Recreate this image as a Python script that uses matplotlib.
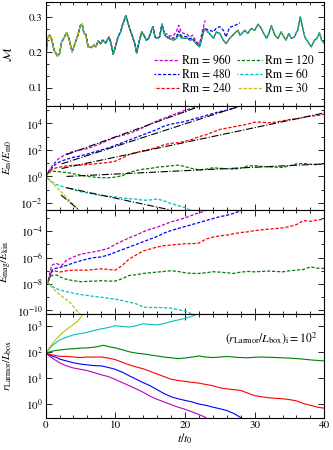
import numpy as np
import matplotlib as mpl
mpl.use('Agg')
import matplotlib.pyplot as plt
from matplotlib.ticker import MultipleLocator, AutoMinorLocator, LogLocator, NullFormatter, NullLocator

plt.rcParams['font.family'] = 'STIXGeneral'
plt.rcParams['mathtext.fontset'] = 'stix'
plt.rcParams['font.size'] = 8.5

# ---- data ----
runs = ['960', '480', '240', '120', '60', '30']
colors = ['m', 'b', 'r', 'g', 'c', 'y']

# Mach number, shared part of all runs
t_mach = [0, 0.1, 0.25, 0.6, 0.9, 1.2, 1.7, 2.0, 2.3, 2.6, 3.0, 3.35, 3.8, 4.2, 4.55, 5.0, 5.25, 5.5,
          5.75, 6.1, 6.6, 6.9, 7.2, 7.55, 7.9, 8.2, 8.6, 9.1, 9.4, 9.7, 10.0, 10.4, 10.75, 11.1, 11.5,
          11.7, 12.05, 12.45, 12.8, 13.05, 13.4, 13.8, 14.1, 14.45, 14.8, 15.2, 15.4, 15.7, 16.0, 16.35,
          16.7, 17.1, 17.4, 17.8, 18.4, 18.8, 19.1, 19.5, 19.9, 20.3, 20.7, 21.1, 21.6, 22.1, 22.5, 22.8,
          23.05, 23.5, 24.1, 24.5, 25.0, 25.5, 25.9, 26.4, 27.1, 27.6, 27.9, 28.6, 29.0, 29.5, 30.0, 30.5,
          30.95, 31.3, 31.7, 32.05, 32.4, 32.9, 33.35, 33.8, 34.2, 34.5, 34.9, 35.25, 35.7, 36.2, 36.55,
          36.85, 37.2, 37.65, 38.1, 38.6, 38.95, 39.3, 39.6, 40.0]
mach = [0.05, 0.2, 0.239, 0.248, 0.234, 0.206, 0.189, 0.196, 0.229, 0.239, 0.255, 0.239, 0.201, 0.224,
        0.243, 0.276, 0.279, 0.253, 0.251, 0.215, 0.213, 0.22, 0.215, 0.232, 0.224, 0.234, 0.226, 0.243,
        0.224, 0.194, 0.215, 0.243, 0.257, 0.281, 0.303, 0.291, 0.267, 0.245, 0.224, 0.198, 0.229, 0.257,
        0.248, 0.234, 0.239, 0.262, 0.272, 0.243, 0.239, 0.243, 0.279, 0.248, 0.242, 0.238, 0.234, 0.24,
        0.25, 0.24, 0.239, 0.24, 0.234, 0.236, 0.224, 0.215, 0.245, 0.267, 0.262, 0.253, 0.239, 0.257,
        0.253, 0.234, 0.224, 0.239, 0.253, 0.262, 0.248, 0.262, 0.253, 0.267, 0.262, 0.279, 0.267, 0.253,
        0.239, 0.253, 0.275, 0.248, 0.239, 0.257, 0.243, 0.234, 0.253, 0.239, 0.243, 0.264, 0.30, 0.272,
        0.243, 0.229, 0.215, 0.234, 0.239, 0.255, 0.234, 0.225]
# where Rm=960 and Rm=480 leave the common curve
t_mach_960 = [17.1, 17.4, 17.8, 18.4, 18.8, 19.1, 19.5, 19.9, 20.3, 20.7, 21.1, 21.6, 22.1, 22.5, 22.8, 22.9]
mach_960 = [0.25, 0.252, 0.245, 0.248, 0.26, 0.276, 0.255, 0.253, 0.25, 0.243, 0.248, 0.229, 0.225,
            0.26, 0.283, 0.29]
t_mach_480 = [17.1, 17.4, 17.8, 18.4, 18.8, 19.1, 19.5, 19.9, 20.3, 20.7, 21.1, 21.6, 22.1, 22.5, 22.8,
              23.05, 23.5, 24.1, 24.5, 25.0, 25.5, 25.9, 26.4, 27.1, 27.6, 27.9]
mach_480 = [0.248, 0.245, 0.24, 0.24, 0.245, 0.26, 0.245, 0.245, 0.243, 0.238, 0.24, 0.226, 0.218, 0.25,
            0.27, 0.265, 0.262, 0.258, 0.268, 0.272, 0.262, 0.243, 0.27, 0.275, 0.28, 0.283]
mach_end = {'960': 16.8, '480': 16.8, '240': 40, '120': 40, '60': 40, '30': 7.8}

# E_m / E_m0 (log10)
t_em = {
    '960': [0, 0.5, 1, 1.5, 2, 3, 4, 5, 6, 7, 8, 9, 10, 11, 12, 13, 14, 15, 16, 17, 18, 19, 20, 21, 22, 22.5],
    '480': [0, 0.5, 1, 1.5, 2, 3, 4, 5, 6, 7, 8, 9, 10, 11, 12, 13, 14, 15, 16, 17, 18, 19, 20, 21, 22, 23,
            24, 25, 26, 27, 28],
    '240': [0, 0.5, 1, 1.5, 2] + list(range(3, 41)),
    '120': [0, 0.5, 1, 1.5, 2] + list(range(3, 41)),
    '60': [0, 0.5, 1, 1.5, 2, 3, 4, 5, 6, 7, 8, 9, 10, 11, 12, 13, 14, 15, 16, 17, 18, 19, 20, 20.8],
    '30': [0, 0.5, 1, 1.5, 2, 2.5, 3, 3.5, 4, 4.5, 5],
}
lg_em = {
    '960': [0, 0.45, 0.85, 1.15, 1.4, 1.7, 1.9, 2.0, 2.1, 2.3, 2.5, 2.75, 2.95, 3.1, 3.25, 3.45, 3.7, 3.95,
            4.2, 4.4, 4.6, 4.8, 5.0, 5.15, 5.3, 5.4],
    '480': [0, 0.4, 0.7, 0.95, 1.1, 1.3, 1.45, 1.55, 1.7, 1.85, 2.0, 2.15, 2.35, 2.55, 2.75, 2.95, 3.15,
            3.35, 3.55, 3.8, 3.95, 4.05, 4.15, 4.3, 4.45, 4.6, 4.75, 4.9, 5.0, 5.15, 5.35],
    '240': [0, 0.35, 0.55, 0.65, 0.7, 0.8, 0.85, 0.85, 0.9, 0.95, 1.0, 1.05, 1.15, 1.4, 1.65, 1.8, 1.95,
            2.05, 2.2, 2.4, 2.5, 2.55, 2.65, 2.8, 3.0, 3.15, 3.35, 3.55, 3.65, 3.75, 3.85, 3.95, 4.1, 4.1,
            4.05, 4.1, 4.2, 4.3, 4.35, 4.45, 4.55, 4.6, 4.7],
    '120': [0, 0.3, 0.4, 0.38, 0.35, 0.3, 0.2, 0.1, 0.0, -0.05, -0.1, -0.1, -0.05, 0.05, 0.3, 0.45, 0.55,
            0.6, 0.7, 0.75, 0.8, 0.85, 0.75, 0.6, 0.5, 0.55, 0.65, 0.62, 0.58, 0.55, 0.62, 0.8, 0.82, 0.75,
            0.72, 0.7, 0.68, 0.8, 0.95, 0.98, 0.92, 0.88, 0.95],
    '60': [0, -0.25, -0.45, -0.6, -0.7, -0.85, -1.0, -1.15, -1.25, -1.35, -1.45, -1.5, -1.55, -1.62, -1.68,
           -1.72, -1.8, -1.78, -1.7, -1.85, -2.05, -2.2, -2.35, -2.55],
    '30': [0, -0.25, -0.5, -0.78, -1.05, -1.3, -1.6, -1.85, -2.1, -2.4, -2.7],
}
# exponential fits: (t_start, t_end), (log10 start, log10 end)
fit_t = {'960': (3, 22.3), '480': (2.3, 27.8), '240': (2.3, 40), '120': (3, 40), '60': (3, 17.8), '30': (2.2, 4.75)}
fit_lg = {'960': (1.65, 5.33), '480': (0.95, 5.3), '240': (0.6, 4.8), '120': (0.0, 0.95),
          '60': (-0.85, -2.52), '30': (-1.4, -2.52)}

# E_mag / E_kin (log10)
t_ratio = {
    '960': [0, 0.3, 0.6, 0.85, 1.2, 1.6, 2.0, 2.3, 3, 4, 5, 6, 7, 8, 9, 10, 11, 12, 13, 14, 15, 16, 17,
            18, 19, 20, 21, 22, 22.9],
    '480': [0, 0.3, 0.6, 0.85, 1.2, 1.6, 2.0, 3, 4, 5, 6, 7, 8, 9, 10, 11, 12, 13, 14, 15, 16, 17, 18, 19,
            20, 21, 22, 23, 24, 25, 26, 27, 28],
    '240': [0, 0.3, 0.6, 0.85, 1.2, 1.6, 2] + list(range(3, 41)),
    '120': [0, 0.3, 0.6, 1, 1.6, 2] + list(range(3, 41)),
    '60': [0, 0.3, 1, 1.5, 2, 3, 4, 5, 6, 7, 8, 9, 10, 11, 12, 13, 14, 15, 16, 17, 18, 19, 20, 20.9],
    '30': [0, 0.05, 0.3, 1, 1.5, 2, 2.5, 3, 3.5, 4, 4.5, 5],
}
lg_ratio = {
    '960': [-7.85, -7.9, -7.2, -6.6, -6.5, -6.45, -6.55, -6.6, -6.2, -5.95, -5.75, -5.65, -5.55, -5.45,
            -5.3, -5.0, -4.75, -4.5, -4.3, -4.05, -3.85, -3.7, -3.5, -3.3, -3.15, -3.0, -2.8, -2.6, -2.5],
    '480': [-7.85, -7.9, -7.5, -7.0, -6.85, -6.8, -6.75, -6.6, -6.4, -6.25, -6.1, -6.0, -5.95, -5.8, -5.6,
            -5.4, -5.2, -5.0, -4.8, -4.6, -4.4, -4.15, -3.95, -3.8, -3.65, -3.5, -3.35, -3.2, -3.05, -2.9,
            -2.8, -2.65, -2.45],
    '240': [-7.85, -7.9, -7.5, -7.1, -7.0, -7.05, -7.1, -7.0, -6.95, -6.95, -6.95, -6.9, -6.85, -6.9, -6.95,
            -6.6, -6.1, -5.8, -5.5, -5.35, -5.2, -5.1, -5.05, -5.0, -4.95, -4.95, -4.9, -4.6, -4.45, -4.35,
            -4.3, -4.2, -4.1, -4.05, -3.95, -3.9, -3.85, -3.8, -3.75, -3.65, -3.5, -3.2, -3.25, -3.15, -3.1],
    '120': [-7.85, -7.9, -7.45, -7.35, -7.32, -7.45, -7.65, -7.75, -7.83, -7.8, -7.78, -7.75, -7.78, -7.78,
            -7.6, -7.35, -7.3, -7.2, -7.15, -7.1, -7.05, -7.0, -7.05, -7.15, -7.2, -7.2, -7.15, -7.07, -7.1,
            -7.15, -7.2, -7.1, -7.05, -7.08, -7.05, -7.02, -7.05, -7.08, -7.0, -6.95, -6.9, -6.7, -6.8, -6.82],
    '60': [-7.85, -7.9, -8.2, -8.33, -8.45, -8.58, -8.7, -8.8, -8.87, -8.95, -9.0, -9.08, -9.15, -9.25,
           -9.38, -9.5, -9.75, -9.78, -9.78, -9.8, -9.83, -9.95, -10.05, -10.25],
    '30': [-6.6, -7.6, -7.9, -8.3, -8.55, -8.8, -9.0, -9.2, -9.4, -9.7, -10.05, -10.3],
}

# r_Larmor / L_box (log10)
t_rl = {
    '960': [0, 1, 1.6, 2, 3, 4, 5, 6, 7, 8, 9, 10, 11, 12, 13, 14, 15, 16, 17, 18, 19, 20, 21, 22, 23],
    '480': [0, 1, 1.6, 2] + list(range(3, 29)),
    '240': [0, 1, 1.6, 2] + list(range(3, 41)),
    '120': [0, 1, 2, 3, 4, 5, 6, 7, 7.5, 8.3, 9] + list(range(10, 41)),
    '60': [0, 1, 2, 3, 4, 5, 6, 7, 8, 9, 10, 11, 12, 13, 14, 15, 16, 17, 18, 19, 20, 21, 22.2],
    '30': [0, 0.5, 1, 1.5, 2, 2.5, 3, 3.5, 4, 4.5, 5, 5.5],
}
lg_rl = {
    '960': [1.95, 1.75, 1.65, 1.58, 1.46, 1.38, 1.33, 1.28, 1.2, 1.12, 1.05, 0.94, 0.82, 0.7, 0.58, 0.45,
            0.3, 0.18, 0.08, -0.02, -0.12, -0.2, -0.3, -0.4, -0.52],
    '480': [1.95, 1.83, 1.78, 1.72, 1.65, 1.58, 1.53, 1.5, 1.47, 1.46, 1.4, 1.33, 1.22, 1.08, 0.95, 0.82,
            0.7, 0.55, 0.4, 0.28, 0.2, 0.14, 0.08, 0.0, -0.05, -0.12, -0.18, -0.25, -0.36, -0.52],
    '240': [1.95, 1.88, 1.85, 1.83, 1.82, 1.8, 1.78, 1.8, 1.8, 1.8, 1.76, 1.7, 1.6, 1.5, 1.42, 1.35, 1.25,
            1.15, 1.05, 0.95, 0.9, 0.87, 0.83, 0.8, 0.75, 0.7, 0.62, 0.58, 0.55, 0.52, 0.42, 0.32, 0.28,
            0.24, 0.22, 0.2, 0.17, 0.12, 0.02, -0.05, -0.12, -0.16],
    '120': [1.95, 2.03, 2.07, 2.1, 2.12, 2.14, 2.15, 2.18, 2.2, 2.25, 2.2, 2.15, 2.08, 2.0, 1.95, 1.92,
            1.88, 1.84, 1.8, 1.77, 1.74, 1.76, 1.8, 1.84, 1.8, 1.78, 1.8, 1.82, 1.8, 1.78, 1.77, 1.79, 1.8,
            1.79, 1.78, 1.77, 1.76, 1.74, 1.72, 1.69, 1.67, 1.65],
    '60': [1.95, 2.25, 2.45, 2.56, 2.65, 2.7, 2.75, 2.82, 2.88, 2.93, 3.0, 2.97, 2.95, 3.0, 3.07, 3.05,
           3.03, 3.08, 3.16, 3.22, 3.28, 3.36, 3.5],
    '30': [1.95, 2.15, 2.32, 2.48, 2.62, 2.75, 2.85, 2.95, 3.05, 3.15, 3.3, 3.5],
}

# ---- figure ----
fig, axs = plt.subplots(4, 1, sharex=True, figsize=(3.33, 4.5), dpi=100)
fig.subplots_adjust(left=0.137, right=0.974, top=0.9956, bottom=0.072, hspace=0)
ax1, ax2, ax3, ax4 = axs

lw = 0.9
offsets = [0, 1.2, 2.4, 0.6, 1.8, 3.0]

tm = np.array(t_mach)
mm = np.array(mach)
for i, (rm, col) in enumerate(zip(runs, colors)):
    ls = (offsets[i], (2.6, 1.4))
    sel = tm <= mach_end[rm]
    x, y = list(tm[sel]), list(mm[sel])
    if rm == '960':
        x, y = x + t_mach_960, y + mach_960
    if rm == '480':
        x, y = x + t_mach_480, y + mach_480
    ax1.plot(x, y, color=col, ls=ls, lw=lw, label='Rm = ' + rm)

    ax2.plot(t_em[rm], np.power(10.0, lg_em[rm]), color=col, ls=ls, lw=lw)
    ax2.plot(fit_t[rm], np.power(10.0, fit_lg[rm]), color='k', ls='-.', lw=0.8)
    ax3.plot(t_ratio[rm], np.power(10.0, lg_ratio[rm]), color=col, ls=ls, lw=lw)
    ax4.plot(t_rl[rm], np.power(10.0, lg_rl[rm]), color=col, ls='-', lw=0.8)

ax1.set_ylim(0.048, 0.342)
ax1.yaxis.set_major_locator(MultipleLocator(0.1))
ax1.yaxis.set_minor_locator(AutoMinorLocator(3))
ax1.set_ylabel(r'$\mathcal{M}$')
ax1.legend(loc='lower right', ncol=2, frameon=False, handlelength=2.1, handletextpad=0.25,
           columnspacing=0.6, labelspacing=0.2, borderaxespad=0.5, fontsize=8.5)

ax2.set_yscale('log')
ax2.set_ylim(10 ** -2.52, 10 ** 5.33)
ax2.set_ylabel(r'$E_{\rm m}/E_{\rm m0}$', fontsize=8)
ax3.set_yscale('log')
ax3.set_ylim(10 ** -10.25, 10 ** -2.38)
ax3.set_ylabel(r'$E_{\rm mag}/E_{\rm kin}$', fontsize=8)
for ax in (ax2, ax3):
    ax.yaxis.set_major_locator(LogLocator(base=100))
    ax.yaxis.set_minor_locator(LogLocator(base=10, subs=(1.0,), numticks=30))
    ax.yaxis.set_minor_formatter(NullFormatter())

ax4.set_yscale('log')
ax4.set_ylim(10 ** -0.52, 10 ** 3.46)
ax4.yaxis.set_major_locator(LogLocator(base=10, numticks=10))
ax4.yaxis.set_minor_locator(NullLocator())
ax4.set_ylabel(r'$r_{\rm Larmor}/L_{\rm box}$', fontsize=8)
ax4.text(0.975, 0.77, r'$(r_{\rm Larmor}/L_{\rm box})_{\rm i} = 10^2$', transform=ax4.transAxes,
         ha='right', va='center', fontsize=8.5)

ax4.set_xlim(0, 40)
ax4.xaxis.set_major_locator(MultipleLocator(10))
ax4.xaxis.set_minor_locator(MultipleLocator(2))
ax4.set_xlabel(r'$t/t_0$', labelpad=1)

for ax in axs:
    ax.tick_params(which='both', direction='in', top=True, right=True, width=0.6, pad=2,
                   labelsize=8)
    ax.tick_params(which='major', length=4)
    ax.tick_params(which='minor', length=2)
    for s in ax.spines.values():
        s.set_linewidth(0.8)
    ax.yaxis.set_label_coords(-0.115, 0.5)

fig.savefig('out.png', dpi=100)
